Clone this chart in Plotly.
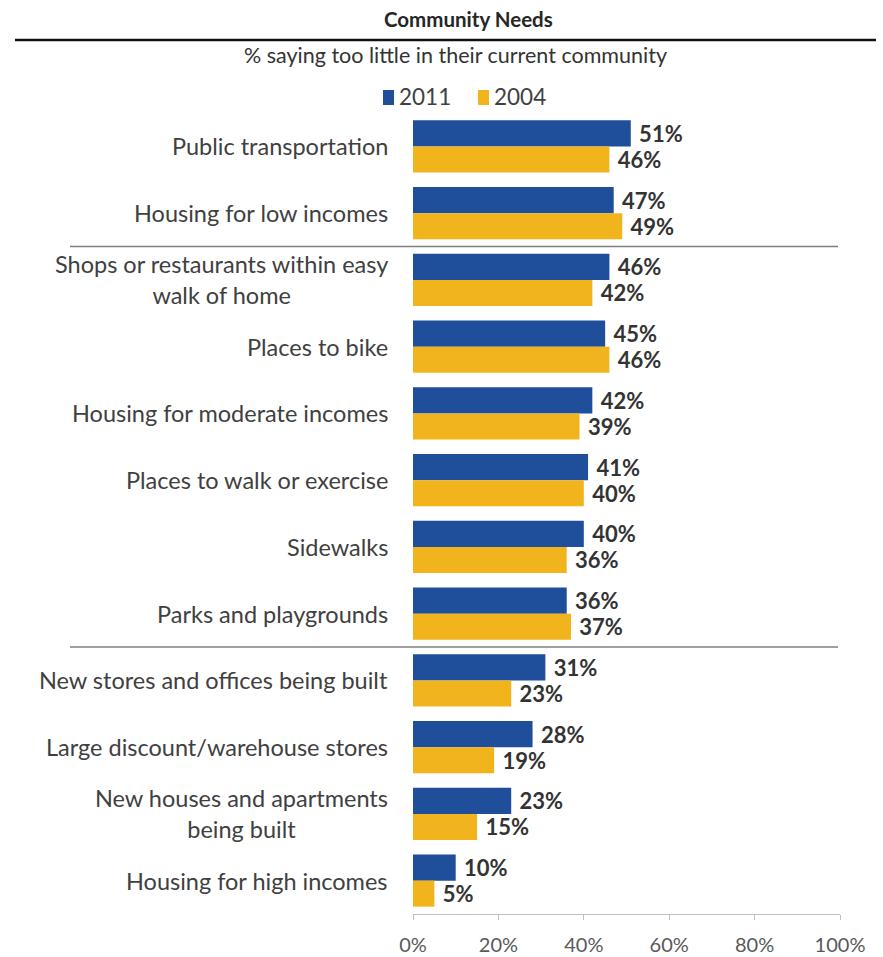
import plotly.graph_objects as go

# Survey items, top to bottom
categories = [
    "Public transportation",
    "Housing for low incomes",
    "Shops or restaurants within easy<br>walk of home",
    "Places to bike",
    "Housing for moderate incomes",
    "Places to walk or exercise",
    "Sidewalks",
    "Parks and playgrounds",
    "New stores and offices being built",
    "Large discount/warehouse stores",
    "New houses and apartments<br>being built",
    "Housing for high incomes",
]
values_2011 = [51, 47, 46, 45, 42, 41, 40, 36, 31, 28, 23, 10]
values_2004 = [46, 49, 42, 46, 39, 40, 36, 37, 23, 19, 15, 5]
series_names = ["2011", "2004"]
x_ticks = [0, 20, 40, 60, 80, 100]
x_tick_labels = ["0%", "20%", "40%", "60%", "80%", "100%"]

BLUE = "#1f4e9a"
GOLD = "#f2b41c"
FONT = "Lato, 'Open Sans', sans-serif"

W, H = 883, 957
L, R, T, B = 413, 43, 113, 43
PW, PH = W - L - R, H - T - B


def px(x):
    return (x - L) / PW


def py(y):
    return (H - B - y) / PH


fig = go.Figure()
for name, vals, color in [(series_names[0], values_2011, BLUE), (series_names[1], values_2004, GOLD)]:
    fig.add_trace(go.Bar(
        name=name,
        x=vals,
        y=list(range(len(categories))),
        orientation="h",
        marker=dict(color=color, line=dict(width=0)),
        text=[f"{v}%" for v in vals],
        texttemplate="\u00a0%{text}",
        textposition="outside",
        constraintext="none",
        cliponaxis=False,
        textfont=dict(family=FONT, size=22, color="#333333", weight="bold"),
        showlegend=False,
    ))

annotations = []
# Category labels, right-aligned block with centered lines
for i, cat in enumerate(categories):
    annotations.append(dict(
        xref="paper", yref="y", x=px(390), y=i, text=cat,
        xanchor="right", yanchor="middle", align="center", showarrow=False,
        font=dict(family=FONT, size=23.5, color="#404040"),
    ))

# Titles
annotations.append(dict(
    xref="paper", yref="paper", x=px(468), y=py(19), text="<b>Community Needs</b>",
    xanchor="center", yanchor="middle", showarrow=False,
    font=dict(family=FONT, size=20.5, color="#262626"),
))
annotations.append(dict(
    xref="paper", yref="paper", x=px(455), y=py(55), text="% saying too little in their current community",
    xanchor="center", yanchor="middle", showarrow=False,
    font=dict(family=FONT, size=21.5, color="#333333"),
))

shapes = [
    # rule under the title
    dict(type="line", xref="paper", yref="paper", x0=px(15), x1=px(876), y0=py(40), y1=py(40),
         line=dict(color="#111111", width=2.5)),
    # group separators
    dict(type="line", xref="paper", yref="y", x0=px(70), x1=px(838), y0=1.5, y1=1.5,
         line=dict(color="#7f7f7f", width=1.5)),
    dict(type="line", xref="paper", yref="y", x0=px(70), x1=px(838), y0=7.5, y1=7.5,
         line=dict(color="#7f7f7f", width=1.5)),
]

# Legend: colored swatch + year label
legend_items = [(383, 397, BLUE, series_names[0]), (478, 492, GOLD, series_names[1])]
for sx, tx, color, label in legend_items:
    shapes.append(dict(type="rect", xref="paper", yref="paper",
                       x0=px(sx), x1=px(sx + 11), y0=py(105), y1=py(90),
                       fillcolor=color, line=dict(width=0)))
    annotations.append(dict(
        xref="paper", yref="paper", x=px(tx), y=py(97), text=label,
        xanchor="left", yanchor="middle", showarrow=False,
        font=dict(family=FONT, size=22.5, color="#404040"),
    ))

fig.update_layout(
    width=W, height=H,
    margin=dict(l=L, r=R, t=T, b=B, autoexpand=False),
    paper_bgcolor="white", plot_bgcolor="white",
    barmode="group", bargap=0.22, bargroupgap=0,
    annotations=annotations, shapes=shapes,
    xaxis=dict(
        range=[0, 100], tickvals=x_ticks, ticktext=x_tick_labels,
        showgrid=False, zeroline=False, showline=True, linecolor="#bfbfbf", linewidth=1,
        ticks="outside", ticklen=5, tickcolor="#bfbfbf",
        ticklabelstandoff=8, automargin=False,
        tickfont=dict(family=FONT, size=20, color="#595959"),
    ),
    yaxis=dict(
        range=[len(categories) - 0.5, -0.5], showticklabels=False,
        showgrid=False, zeroline=False, showline=False, ticks="", automargin=False,
    ),
)

fig.write_html("out.html")
